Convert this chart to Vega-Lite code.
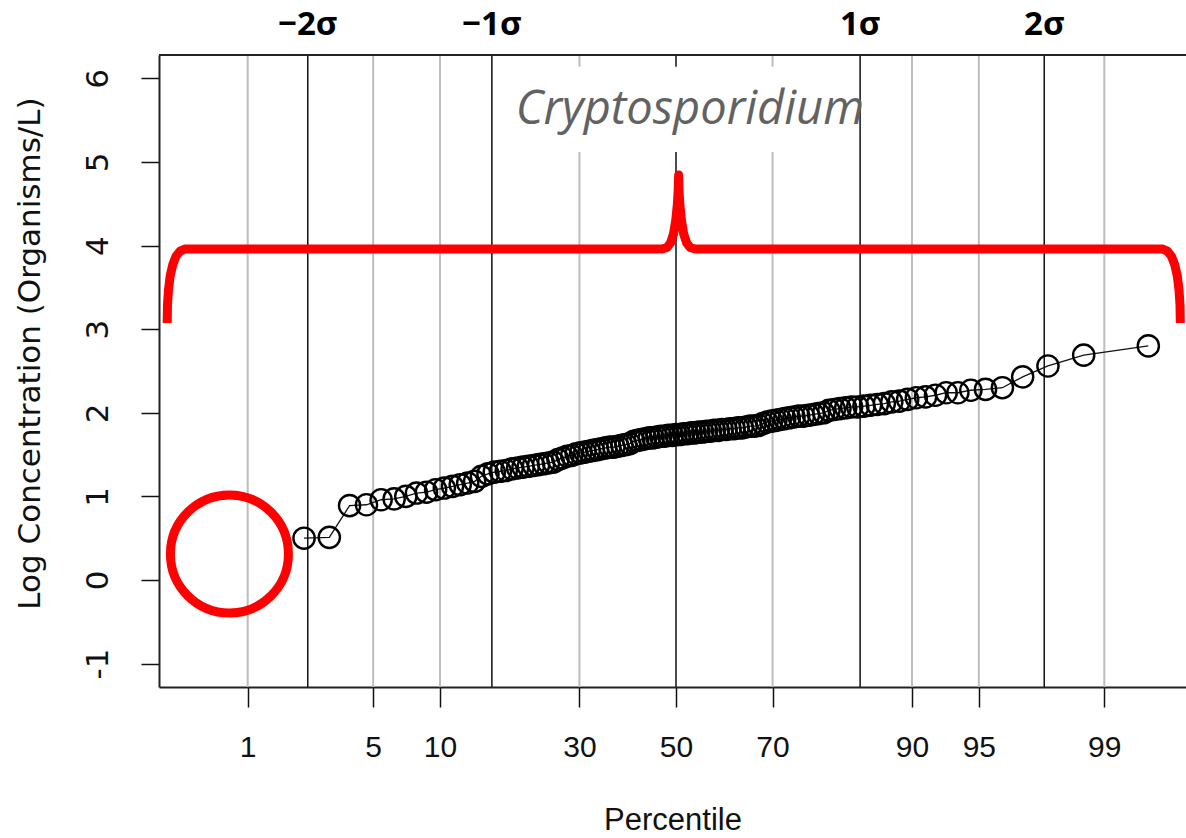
{
  "$schema": "https://vega.github.io/schema/vega-lite/v6.json",
  "width": 1027,
  "height": 632,
  "autosize": {"type": "none"},
  "padding": {"left": 159, "top": 55, "right": 0, "bottom": 151},
  "background": "white",
  "config": {"view": {"stroke": null}, "axis": {"grid": false}},
  "resolve": {"axis": {"x": "independent", "y": "independent"}},
  "datasets": {
    "pct": [
      {"z": -2.3263}, {"z": -1.6449}, {"z": -1.2816}, {"z": -0.5244},
      {"z": 0.5244}, {"z": 1.2816}, {"z": 1.6449}, {"z": 2.3263}
    ],
    "sigma": [{"z": -2}, {"z": -1}, {"z": 0}, {"z": 1}, {"z": 2}],
    "sigmalab": [
      {"z": -2, "logc": 6.64, "text": "−2σ"}, {"z": -1, "logc": 6.64, "text": "−1σ"},
      {"z": 1, "logc": 6.64, "text": "1σ"}, {"z": 2, "logc": 6.64, "text": "2σ"}
    ],
    "frame": [{"logc": 6.28}],
    "box": [{"x1": -0.956, "x2": 0.984, "y1": 5.12, "y2": 6.14}],
    "label": [{"z": 0.076, "logc": 5.62, "text": "Cryptosporidium"}],
    "obs": [
      {"z": -2.0202, "logc": 0.50}, {"z": -1.8829, "logc": 0.51}, {"z": -1.7729, "logc": 0.89},
      {"z": -1.6811, "logc": 0.90}, {"z": -1.6015, "logc": 0.96}, {"z": -1.5309, "logc": 0.97},
      {"z": -1.4674, "logc": 1.00}, {"z": -1.4095, "logc": 1.04}, {"z": -1.3554, "logc": 1.05},
      {"z": -1.3054, "logc": 1.08}, {"z": -1.2582, "logc": 1.10}, {"z": -1.2138, "logc": 1.12},
      {"z": -1.1719, "logc": 1.14}, {"z": -1.1314, "logc": 1.16}, {"z": -1.0936, "logc": 1.18},
      {"z": -1.0567, "logc": 1.24}, {"z": -1.0212, "logc": 1.27}, {"z": -0.9868, "logc": 1.29},
      {"z": -0.9538, "logc": 1.30}, {"z": -0.9217, "logc": 1.31}, {"z": -0.8904, "logc": 1.33},
      {"z": -0.8602, "logc": 1.34}, {"z": -0.8307, "logc": 1.35}, {"z": -0.8019, "logc": 1.36},
      {"z": -0.7735, "logc": 1.37}, {"z": -0.7459, "logc": 1.38}, {"z": -0.7191, "logc": 1.39},
      {"z": -0.6925, "logc": 1.40}, {"z": -0.6663, "logc": 1.41}, {"z": -0.6409, "logc": 1.44},
      {"z": -0.6155, "logc": 1.46}, {"z": -0.5908, "logc": 1.48}, {"z": -0.5663, "logc": 1.49},
      {"z": -0.5423, "logc": 1.51}, {"z": -0.5184, "logc": 1.52}, {"z": -0.4950, "logc": 1.53},
      {"z": -0.4718, "logc": 1.54}, {"z": -0.4489, "logc": 1.55}, {"z": -0.4260, "logc": 1.56},
      {"z": -0.4035, "logc": 1.57}, {"z": -0.3812, "logc": 1.58}, {"z": -0.3590, "logc": 1.59},
      {"z": -0.3370, "logc": 1.59}, {"z": -0.3153, "logc": 1.60}, {"z": -0.2936, "logc": 1.61},
      {"z": -0.2721, "logc": 1.62}, {"z": -0.2508, "logc": 1.63}, {"z": -0.2294, "logc": 1.66},
      {"z": -0.2082, "logc": 1.67}, {"z": -0.1871, "logc": 1.68}, {"z": -0.1661, "logc": 1.69},
      {"z": -0.1453, "logc": 1.70}, {"z": -0.1243, "logc": 1.70}, {"z": -0.1035, "logc": 1.71},
      {"z": -0.0827, "logc": 1.72}, {"z": -0.0620, "logc": 1.72}, {"z": -0.0413, "logc": 1.73},
      {"z": -0.0207, "logc": 1.73}, {"z": 0.0, "logc": 1.74}, {"z": 0.0207, "logc": 1.74},
      {"z": 0.0413, "logc": 1.75}, {"z": 0.0620, "logc": 1.75}, {"z": 0.0827, "logc": 1.76},
      {"z": 0.1035, "logc": 1.76}, {"z": 0.1243, "logc": 1.77}, {"z": 0.1453, "logc": 1.77},
      {"z": 0.1661, "logc": 1.78}, {"z": 0.1871, "logc": 1.78}, {"z": 0.2082, "logc": 1.79},
      {"z": 0.2294, "logc": 1.79}, {"z": 0.2508, "logc": 1.80}, {"z": 0.2721, "logc": 1.80},
      {"z": 0.2936, "logc": 1.81}, {"z": 0.3153, "logc": 1.81}, {"z": 0.3370, "logc": 1.82},
      {"z": 0.3590, "logc": 1.82}, {"z": 0.3812, "logc": 1.83}, {"z": 0.4035, "logc": 1.84},
      {"z": 0.4260, "logc": 1.84}, {"z": 0.4489, "logc": 1.85}, {"z": 0.4718, "logc": 1.87},
      {"z": 0.4950, "logc": 1.89}, {"z": 0.5184, "logc": 1.90}, {"z": 0.5423, "logc": 1.91},
      {"z": 0.5663, "logc": 1.92}, {"z": 0.5908, "logc": 1.93}, {"z": 0.6155, "logc": 1.94},
      {"z": 0.6409, "logc": 1.95}, {"z": 0.6663, "logc": 1.96}, {"z": 0.6925, "logc": 1.96},
      {"z": 0.7191, "logc": 1.97}, {"z": 0.7459, "logc": 1.98}, {"z": 0.7735, "logc": 1.99},
      {"z": 0.8019, "logc": 2.00}, {"z": 0.8307, "logc": 2.03}, {"z": 0.8602, "logc": 2.04},
      {"z": 0.8904, "logc": 2.05}, {"z": 0.9217, "logc": 2.06}, {"z": 0.9538, "logc": 2.07},
      {"z": 0.9868, "logc": 2.07}, {"z": 1.0212, "logc": 2.08}, {"z": 1.0567, "logc": 2.09},
      {"z": 1.0936, "logc": 2.10}, {"z": 1.1314, "logc": 2.11}, {"z": 1.1719, "logc": 2.13},
      {"z": 1.2138, "logc": 2.14}, {"z": 1.2582, "logc": 2.16}, {"z": 1.3054, "logc": 2.18},
      {"z": 1.3554, "logc": 2.19}, {"z": 1.4095, "logc": 2.21}, {"z": 1.4674, "logc": 2.24},
      {"z": 1.5309, "logc": 2.24}, {"z": 1.6015, "logc": 2.27}, {"z": 1.6811, "logc": 2.28},
      {"z": 1.7729, "logc": 2.30}, {"z": 1.8829, "logc": 2.43}, {"z": 2.0202, "logc": 2.56},
      {"z": 2.2144, "logc": 2.69}, {"z": 2.5653, "logc": 2.80}
    ],
    "ring": [{"z": -2.4255, "logc": 0.311}],
    "brace": [
      {"o": 1, "z": -2.7636, "logc": 3.074}, {"o": 2, "z": -2.7620, "logc": 3.289},
      {"o": 3, "z": -2.7565, "logc": 3.469}, {"o": 4, "z": -2.7473, "logc": 3.636},
      {"o": 5, "z": -2.7337, "logc": 3.768}, {"o": 6, "z": -2.7147, "logc": 3.876},
      {"o": 7, "z": -2.6929, "logc": 3.935}, {"o": 8, "z": -2.6685, "logc": 3.959},
      {"o": 9, "z": -0.0761, "logc": 3.959}, {"o": 10, "z": -0.0489, "logc": 3.977},
      {"o": 11, "z": -0.0299, "logc": 4.031}, {"o": 12, "z": -0.0136, "logc": 4.139},
      {"o": 13, "z": -0.0011, "logc": 4.306}, {"o": 14, "z": 0.0071, "logc": 4.486},
      {"o": 15, "z": 0.0120, "logc": 4.665}, {"o": 16, "z": 0.0141, "logc": 4.844},
      {"o": 17, "z": 0.0163, "logc": 4.665}, {"o": 18, "z": 0.0212, "logc": 4.486},
      {"o": 19, "z": 0.0293, "logc": 4.306}, {"o": 20, "z": 0.0418, "logc": 4.139},
      {"o": 21, "z": 0.0582, "logc": 4.031}, {"o": 22, "z": 0.0772, "logc": 3.977},
      {"o": 23, "z": 0.1043, "logc": 3.959}, {"o": 24, "z": 2.6440, "logc": 3.959},
      {"o": 25, "z": 2.6685, "logc": 3.935}, {"o": 26, "z": 2.6902, "logc": 3.876},
      {"o": 27, "z": 2.7092, "logc": 3.768}, {"o": 28, "z": 2.7228, "logc": 3.636},
      {"o": 29, "z": 2.7321, "logc": 3.469}, {"o": 30, "z": 2.7375, "logc": 3.289},
      {"o": 31, "z": 2.7391, "logc": 3.074}
    ]
  },
  "layer": [
    {
      "data": {"name": "pct"},
      "mark": {"type": "rule", "color": "#bdbdbd", "strokeWidth": 2},
      "encoding": {
        "x": {
          "field": "z", "type": "quantitative",
          "scale": {"domain": [-2.808, 2.77], "nice": false, "zero": false},
          "axis": {
            "orient": "bottom",
            "values": [-2.3263, -1.6449, -1.2816, -0.5244, 0, 0.5244, 1.2816, 1.6449, 2.3263],
            "labelExpr": "datum.value < -2 ? '1' : datum.value < -1.5 ? '5' : datum.value < -1 ? '10' : datum.value < -0.3 ? '30' : datum.value < 0.3 ? '50' : datum.value < 1 ? '70' : datum.value < 1.5 ? '90' : datum.value < 2 ? '95' : '99'",
            "domain": true, "domainColor": "#222", "domainWidth": 2,
            "ticks": true, "tickSize": 20, "tickColor": "#111", "tickWidth": 1.5,
            "labelFont": "Liberation Sans", "labelFontSize": 30, "labelColor": "#111",
            "labelPadding": 25, "labelFlush": false, "labelOverlap": false,
            "title": "Percentile", "titleFont": "Liberation Sans", "titleFontSize": 31,
            "titleFontWeight": "normal", "titleColor": "#111", "titlePadding": 43
          }
        }
      }
    },
    {
      "data": {"name": "sigma"},
      "mark": {"type": "rule", "color": "#111", "strokeWidth": 1.5},
      "encoding": {
        "x": {"field": "z", "type": "quantitative", "axis": null}
      }
    },
    {
      "data": {"name": "frame"},
      "mark": {"type": "rule", "color": "#222", "strokeWidth": 2},
      "encoding": {
        "y": {
          "field": "logc", "type": "quantitative",
          "scale": {"domain": [-1.28, 6.28], "nice": false, "zero": false},
          "axis": {
            "orient": "left",
            "values": [-1, 0, 1, 2, 3, 4, 5, 6],
            "labelExpr": "replace(datum.label, '−', '-')",
            "labelAngle": -90,
            "domain": true, "domainColor": "#222", "domainWidth": 2,
            "ticks": true, "tickSize": 18, "tickColor": "#111", "tickWidth": 1.5,
            "labelFont": "DejaVu Sans", "labelFontSize": 31, "labelColor": "#111",
            "labelPadding": 27,
            "title": "Log Concentration (Organisms/L)", "titleFont": "DejaVu Sans",
            "titleFontSize": 31, "titleFontWeight": "normal", "titleColor": "#111",
            "titlePadding": 36, "titleY": 298
          }
        }
      }
    },
    {
      "data": {"name": "box"},
      "mark": {"type": "rect", "color": "white"},
      "encoding": {
        "x": {"field": "x1", "type": "quantitative", "axis": null},
        "x2": {"field": "x2"},
        "y": {"field": "y1", "type": "quantitative", "axis": null},
        "y2": {"field": "y2"}
      }
    },
    {
      "data": {"name": "label"},
      "mark": {"type": "text", "font": "Open Sans", "fontStyle": "italic", "fontSize": 47, "color": "#626262", "align": "center", "baseline": "middle"},
      "encoding": {
        "x": {"field": "z", "type": "quantitative", "axis": null},
        "y": {"field": "logc", "type": "quantitative", "axis": null},
        "text": {"field": "text"}
      }
    },
    {
      "data": {"name": "sigmalab"},
      "mark": {"type": "text", "font": "Open Sans", "fontWeight": "bold", "fontSize": 33, "color": "#000", "align": "center", "baseline": "middle"},
      "encoding": {
        "x": {"field": "z", "type": "quantitative", "axis": null},
        "y": {"field": "logc", "type": "quantitative", "axis": null},
        "text": {"field": "text"}
      }
    },
    {
      "data": {"name": "brace"},
      "mark": {"type": "line", "color": "#ff0000", "strokeWidth": 9, "strokeCap": "butt", "strokeJoin": "round"},
      "encoding": {
        "x": {"field": "z", "type": "quantitative", "axis": null},
        "y": {"field": "logc", "type": "quantitative", "axis": null},
        "order": {"field": "o"}
      }
    },
    {
      "data": {"name": "obs"},
      "mark": {"type": "line", "color": "#111", "strokeWidth": 1.3},
      "encoding": {
        "x": {"field": "z", "type": "quantitative", "axis": null},
        "y": {"field": "logc", "type": "quantitative", "axis": null}
      }
    },
    {
      "data": {"name": "obs"},
      "mark": {"type": "point", "shape": "circle", "filled": false, "stroke": "#000", "strokeWidth": 2.4, "size": 450, "opacity": 1},
      "encoding": {
        "x": {"field": "z", "type": "quantitative", "axis": null},
        "y": {"field": "logc", "type": "quantitative", "axis": null}
      }
    },
    {
      "data": {"name": "ring"},
      "mark": {"type": "point", "shape": "circle", "filled": false, "stroke": "#ff0000", "strokeWidth": 9, "size": 13924, "opacity": 1},
      "encoding": {
        "x": {"field": "z", "type": "quantitative", "axis": null},
        "y": {"field": "logc", "type": "quantitative", "axis": null}
      }
    }
  ]
}
